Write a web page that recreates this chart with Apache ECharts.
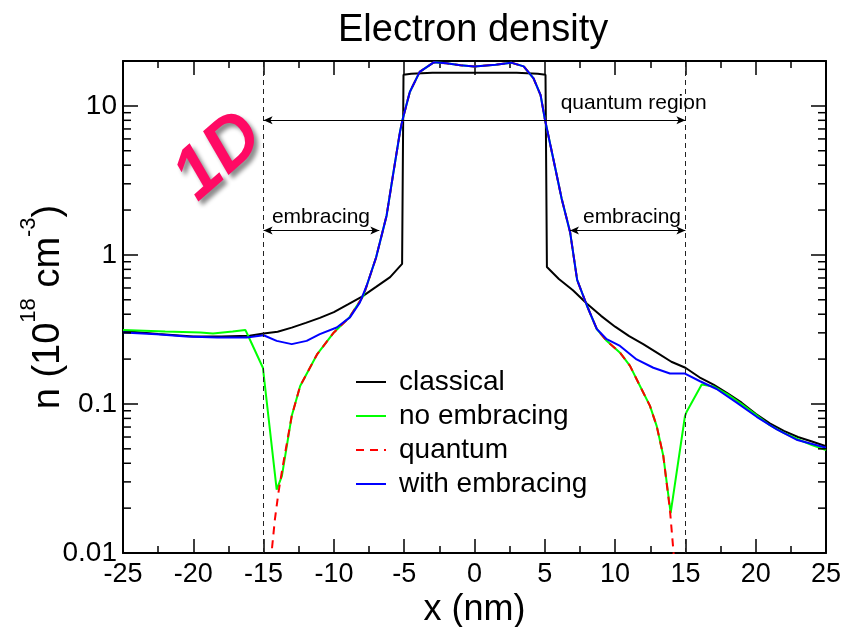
<!DOCTYPE html>
<html>
<head>
<meta charset="utf-8">
<script src="https://cdn.jsdelivr.net/npm/echarts@6/dist/echarts.min.js"></script>
<style>
html, body { margin: 0; padding: 0; background: #fff; }
#chart { width: 858px; height: 627px; }
</style>
</head>
<body>
<div id="chart"></div>
<script>
// electron density along x (nm), n in 1e18 cm^-3
var xMin = -25, xMax = 25;
var yMinorTicks = [0.02, 0.03, 0.04, 0.05, 0.06, 0.07, 0.08, 0.09,
                   0.2, 0.3, 0.4, 0.5, 0.6, 0.7, 0.8, 0.9,
                   2, 3, 4, 5, 6, 7, 8, 9];

// common peak shared by the quantum-like curves
var xPeak = [-7, -6.25, -5.8, -5.3, -5.1, -4.6, -3.9, -2.9, -2, -1, 0, 1.5, 2.6, 3.5, 4.2, 4.7, 5.0, 5.6, 6.2, 6.8, 7.3, 8, 8.7];
var nPeak = [0.96, 1.84, 3.42, 6.7, 8.2, 12.4, 16.9, 19.6, 19.3, 18.7, 18.4, 18.9, 19.5, 18.4, 15.3, 11.8, 8.2, 4.43, 2.38, 1.42, 0.68, 0.456, 0.318];

var xClassical = [-25, -22.5, -20, -18, -16, -15, -14, -13, -12, -11, -10, -9, -8, -7, -6, -5.15, -5.05, -4.5, -3, -1, 1, 3, 4.5, 5.05, 5.15, 6, 7, 8, 9, 10, 11, 12, 13, 14, 15, 16, 17, 18, 19, 20, 21, 22, 23, 24, 25];
var nClassical = [0.309, 0.295, 0.283, 0.283, 0.287, 0.297, 0.305, 0.325, 0.35, 0.378, 0.413, 0.465, 0.525, 0.61, 0.71, 0.87, 16.2, 16.4, 16.7, 16.7, 16.7, 16.7, 16.4, 16.2, 0.83, 0.69, 0.58, 0.47, 0.39, 0.33, 0.285, 0.252, 0.22, 0.192, 0.175, 0.151, 0.135, 0.118, 0.102, 0.086, 0.074, 0.066, 0.06, 0.056, 0.052];

var xNoEmb = [-25, -22, -19.5, -18.6, -17.2, -16.3, -16.1, -15.05, -14.07, -13.7, -13, -12.4, -11.2, -10, -8.9, -7.9]
  .concat(xPeak, [9.4, 10.35, 11.06, 11.77, 12.48, 12.96, 13.43, 13.95, 14.97, 15.1, 16.16, 17, 18, 19, 20, 21, 22, 23, 24, 25]);
var nNoEmb = [0.314, 0.306, 0.302, 0.297, 0.306, 0.314, 0.287, 0.175, 0.0266, 0.0328, 0.083, 0.132, 0.215, 0.302, 0.381, 0.532]
  .concat(nPeak, [0.265, 0.221, 0.18, 0.132, 0.097, 0.071, 0.0447, 0.0185, 0.083, 0.089, 0.135, 0.131, 0.116, 0.1, 0.085, 0.072, 0.064, 0.058, 0.053, 0.049]);

var xQuantum = [-14.6, -14.2, -13.95, -13.64, -13, -12.4, -11.2, -10, -8.9, -7.9]
  .concat(xPeak, [9.4, 10.35, 11.06, 11.77, 12.48, 12.96, 13.43, 13.9, 14.14, 14.35]);
var nQuantum = [0.007, 0.0167, 0.0252, 0.0381, 0.083, 0.132, 0.215, 0.302, 0.381, 0.532]
  .concat(nPeak, [0.265, 0.221, 0.18, 0.132, 0.097, 0.071, 0.0447, 0.0195, 0.0105, 0.006]);

var xWithEmb = [-25, -22.6, -20.5, -18.3, -16.2, -15, -14.07, -13, -11.94, -11, -9.8, -8.86, -8.15, -7.67]
  .concat(xPeak, [9.4, 10.35, 11.53, 12.72, 13.9, 14.97, 16.04, 17.22, 18.65, 20.07, 21.5, 22.9, 25]);
var nWithEmb = [0.302, 0.294, 0.283, 0.279, 0.279, 0.289, 0.265, 0.252, 0.265, 0.294, 0.326, 0.381, 0.48, 0.621]
  .concat(nPeak, [0.272, 0.245, 0.199, 0.175, 0.16, 0.16, 0.142, 0.126, 0.102, 0.082, 0.0676, 0.0576, 0.0508]);

// region markers
var regionEdges = [-15, 15];
var quantumArrowN = 8.0;
var embraceArrowN = 1.46;
var embraceInner = [-6.77, 6.79];

function zip(xs, ys) {
  var out = [];
  for (var i = 0; i < xs.length; i++) out.push([xs[i], ys[i]]);
  return out;
}

var FONT = '"Liberation Sans", Arial, sans-serif';

var chart = echarts.init(document.getElementById('chart'));

var xAxisBase = {
  type: 'value', min: xMin, max: xMax, interval: 5,
  axisLine: { show: true, onZero: false, lineStyle: { color: '#000', width: 2 } },
  axisTick: { show: true, inside: true, length: 14, lineStyle: { color: '#000', width: 1.5 } },
  minorTick: { show: true, splitNumber: 2, length: 7, lineStyle: { color: '#000', width: 1.5 } },
  splitLine: { show: false }
};
var yAxisBase = {
  type: 'log', logBase: 10, min: 0.01, max: 20,
  axisLine: { show: true, onZero: false, lineStyle: { color: '#000', width: 2 } },
  axisTick: { show: true, inside: true, length: 15, lineStyle: { color: '#000', width: 1.5 } },
  splitLine: { show: false }
};

chart.setOption({
  animation: false,
  backgroundColor: '#fff',
  title: {
    text: 'Electron density',
    left: 333, top: 7,
    textStyle: { fontFamily: FONT, fontSize: 38, fontWeight: 'normal', color: '#000' }
  },
  grid: { left: 123, right: 32, top: 61, bottom: 74, containLabel: false, outerBoundsMode: 'none' },
  legend: {
    orient: 'vertical', left: 350, top: 363,
    itemWidth: 30, itemHeight: 14, itemGap: 6,
    itemStyle: { opacity: 0 },
    textStyle: { fontFamily: FONT, fontSize: 28, color: '#000', padding: [0, 0, 0, 8] },
    data: ['classical', 'no embracing', 'quantum', 'with embracing']
  },
  xAxis: [
    echarts.util.merge({
      position: 'bottom',
      name: 'x (nm)', nameLocation: 'middle', nameGap: 39, nameMoveOverlap: false,
      nameTextStyle: { fontFamily: FONT, fontSize: 36, color: '#000' },
      axisLabel: { fontFamily: FONT, fontSize: 27, color: '#000', margin: 8 }
    }, xAxisBase, true),
    echarts.util.merge({ position: 'top', axisLabel: { show: false } }, xAxisBase, true)
  ],
  yAxis: [
    echarts.util.merge({
      position: 'left',
      name: '{n|n (10}{sup|18}{n| cm}{sup|-3}{n|)}',
      nameLocation: 'middle', nameRotate: 90, nameGap: 55, nameMoveOverlap: false,
      nameTextStyle: {
        fontFamily: FONT, color: '#000',
        rich: {
          n: { fontFamily: FONT, fontSize: 38, lineHeight: 40, verticalAlign: 'bottom', color: '#000' },
          sup: { fontFamily: FONT, fontSize: 22, lineHeight: 22, verticalAlign: 'bottom', padding: [0, 0, 28, 0], color: '#000' }
        }
      },
      axisLabel: {
        fontFamily: FONT, fontSize: 28, color: '#000', margin: 6, showMaxLabel: false,
        formatter: function (v) { return v >= 1 ? String(Math.round(v)) : String(+v.toPrecision(1)); }
      }
    }, yAxisBase, true),
    echarts.util.merge({ position: 'right', axisLabel: { show: false } }, yAxisBase, true)
  ],
  graphic: [{
    type: 'text',
    x: 219, y: 157,
    rotation: 0.72,
    style: {
      text: '1D',
      fill: '#ff0a64',
      font: 'italic bold 72px ' + FONT,
      align: 'center', verticalAlign: 'middle',
      textShadowColor: 'rgba(0,0,0,0.45)', textShadowBlur: 4,
      textShadowOffsetX: 4, textShadowOffsetY: 4
    },
    z: 100
  }],
  series: [
    {
      name: 'classical', type: 'line', symbol: 'none',
      lineStyle: { color: '#000', width: 2 }, itemStyle: { color: '#000' },
      data: zip(xClassical, nClassical),
      markLine: {
        silent: true, symbol: 'none', label: { show: false },
        lineStyle: { color: '#222', width: 1, type: [5, 4] },
        data: regionEdges.map(function (e) { return { xAxis: e }; })
      },
      markPoint: {
        silent: true, symbol: 'circle', symbolSize: 1,
        itemStyle: { color: 'transparent' },
        label: { show: true, position: 'inside', fontFamily: FONT, fontSize: 21, color: '#000', formatter: '{b}' },
        data: [
          { name: 'quantum region', coord: [11.32, 10.4] },
          { name: 'embracing', coord: [-10.92, 1.8] },
          { name: 'embracing', coord: [11.2, 1.8] }
        ]
      }
    },
    {
      name: 'no embracing', type: 'line', symbol: 'none',
      lineStyle: { color: '#00ff00', width: 2 }, itemStyle: { color: '#00ff00' },
      data: zip(xNoEmb, nNoEmb),
      markLine: {
        silent: true, symbol: ['arrow', 'arrow'], symbolSize: [6, 9],
        label: { show: false },
        lineStyle: { color: '#000', width: 1, type: 'solid' },
        itemStyle: { color: '#000' },
        data: [
          [{ coord: [regionEdges[0], quantumArrowN] }, { coord: [regionEdges[1], quantumArrowN] }],
          [{ coord: [regionEdges[0], embraceArrowN] }, { coord: [embraceInner[0], embraceArrowN] }],
          [{ coord: [embraceInner[1], embraceArrowN] }, { coord: [regionEdges[1], embraceArrowN] }]
        ]
      }
    },
    {
      name: 'quantum', type: 'line', symbol: 'none',
      lineStyle: { color: '#ff0000', width: 2, type: [8, 6] }, itemStyle: { color: '#ff0000' },
      data: zip(xQuantum, nQuantum)
    },
    {
      name: 'with embracing', type: 'line', symbol: 'none',
      lineStyle: { color: '#0000ff', width: 2 }, itemStyle: { color: '#0000ff' },
      data: zip(xWithEmb, nWithEmb)
    },
    {
      // log minor ticks on left and right frame
      name: 'minorTicks', type: 'custom', silent: true, clip: false, z: 5,
      data: yMinorTicks.map(function (v) { return [xMin, v]; }),
      renderItem: function (params, api) {
        var v = api.value(1);
        var l = api.coord([xMin, v]);
        var r = api.coord([xMax, v]);
        return {
          type: 'group',
          children: [
            { type: 'line', shape: { x1: l[0], y1: l[1], x2: l[0] + 8, y2: l[1] }, style: { stroke: '#000', lineWidth: 1.5 } },
            { type: 'line', shape: { x1: r[0], y1: r[1], x2: r[0] - 8, y2: r[1] }, style: { stroke: '#000', lineWidth: 1.5 } }
          ]
        };
      }
    }
  ]
});
</script>
</body>
</html>
